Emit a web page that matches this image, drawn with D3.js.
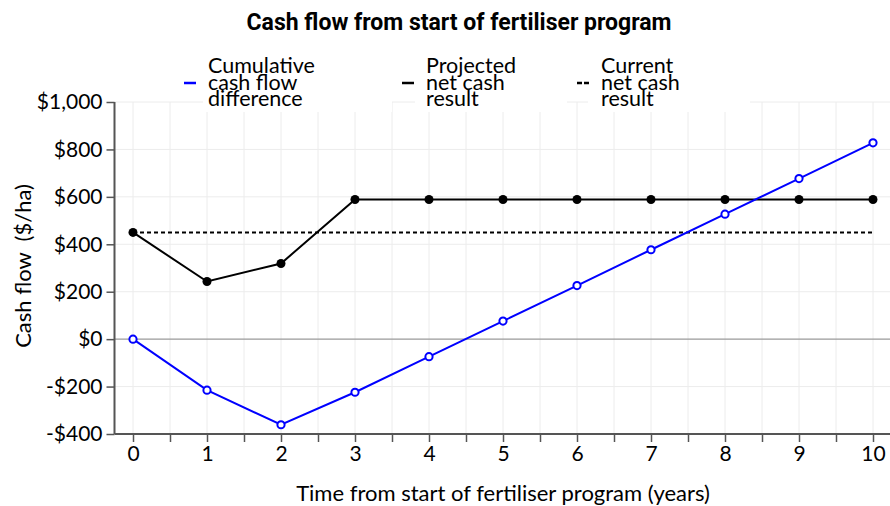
<!DOCTYPE html>
<html><head><meta charset="utf-8">
<script src="https://cdn.jsdelivr.net/npm/d3@7"></script>
<style>body{margin:0;background:#fff}svg{display:block}</style>
</head><body>
<svg id="c" width="890" height="506"></svg>
<script>
const years = [0,1,2,3,4,5,6,7,8,9,10];
const cumulative = [0,-215,-361,-224,-74,76,226,377,527,677,828];
const projected = [450,243,319,589,589,589,589,589,589,589,589];
const current = [450,450];
const currentYears = [0,10];
const yTicks = [-400,-200,0,200,400,600,800,1000];
const xTicks = [0,1,2,3,4,5,6,7,8,9,10];
const legendLabels = [["Cumulative","cash flow","difference"],["Projected","net cash","result"],["Current","net cash","result"]];

const svg = d3.select("#c");
const F = "Lato, 'Open Sans', sans-serif";
const x = d3.scaleLinear().domain([-0.25,10.25]).range([114.5,891.5]);
const y = d3.scaleLinear().domain([-400,1000]).range([434,102]);

// grid
const g = svg.append("g");
const halfTicks = d3.range(0,10.01,0.5);
g.selectAll(".vg").data(halfTicks).join("line")
  .attr("x1",d=>x(d)).attr("x2",d=>x(d)).attr("y1",y(1000)).attr("y2",y(-400))
  .attr("stroke","#ececec").attr("stroke-width",1);
g.selectAll(".hg").data(yTicks).join("line")
  .attr("x1",x(-0.25)).attr("x2",890).attr("y1",d=>y(d)).attr("y2",d=>y(d))
  .attr("stroke",d=>d===0?"#9a9a9a":"#ececec").attr("stroke-width",d=>d===0?1.2:1);

// legend backgrounds
const boxes = [[203,392],[415,567],[588,750]];
svg.selectAll(".lb").data(boxes).join("rect")
  .attr("x",d=>d[0]).attr("width",d=>d[1]-d[0]).attr("y",54).attr("height",58).attr("fill","#fff");

// axes
const yAxis = d3.axisLeft(y).tickValues(yTicks).tickSize(8).tickPadding(4)
  .tickFormat(d=> (d<0?"-$":"$") + d3.format(",")(Math.abs(d)));
const ya = svg.append("g").attr("transform",`translate(${x(-0.25)},0)`).call(yAxis);
ya.select(".domain").attr("stroke","#555").attr("stroke-width",2).attr("d",`M0,${y(1000)}V${y(-400)}`);
ya.selectAll(".tick line").attr("stroke","#555").attr("stroke-width",1.5);
ya.selectAll("text").attr("font-family",F).attr("font-size",21).attr("fill","#000");

const xAxis = d3.axisBottom(x).tickValues(halfTicks).tickSize(8).tickPadding(4)
  .tickFormat(d=> Number.isInteger(d)? d : "");
const xa = svg.append("g").attr("transform",`translate(0,${y(-400)})`).call(xAxis);
xa.select(".domain").attr("stroke","#555").attr("stroke-width",2).attr("d",`M${x(-0.25)},0H890`);
xa.selectAll(".tick line").attr("stroke","#555").attr("stroke-width",1.5);
xa.selectAll("text").attr("font-family",F).attr("font-size",21).attr("fill","#000");

// lines
const line = d3.line().x(d=>x(d[0])).y(d=>y(d[1]));
svg.append("path").datum(currentYears.map((d,i)=>[d,current[i]])).attr("d",line)
  .attr("fill","none").attr("stroke","#000").attr("stroke-width",2).attr("stroke-dasharray","4,3");
svg.append("path").datum(years.map((d,i)=>[d,projected[i]])).attr("d",line)
  .attr("fill","none").attr("stroke","#000").attr("stroke-width",2);
svg.selectAll(".pp").data(years.map((d,i)=>[d,projected[i]])).join("circle")
  .attr("cx",d=>x(d[0])).attr("cy",d=>y(d[1])).attr("r",4.5).attr("fill","#000");
svg.append("path").datum(years.map((d,i)=>[d,cumulative[i]])).attr("d",line)
  .attr("fill","none").attr("stroke","#0000ff").attr("stroke-width",2);
svg.selectAll(".cp").data(years.map((d,i)=>[d,cumulative[i]])).join("circle")
  .attr("cx",d=>x(d[0])).attr("cy",d=>y(d[1])).attr("r",3.6).attr("fill","#fff")
  .attr("stroke","#0000ff").attr("stroke-width",2);

// legend
const lx = [208,426,601];
const styles = [{c:"#0000ff",dash:null},{c:"#000",dash:null},{c:"#000",dash:"5,2"}];
legendLabels.forEach((lines,i)=>{
  svg.append("line").attr("x1",lx[i]-24).attr("x2",lx[i]-12).attr("y1",83).attr("y2",83)
    .attr("stroke",styles[i].c).attr("stroke-width",2.5).attr("stroke-dasharray",styles[i].dash);
  const t = svg.append("text").attr("font-family",F).attr("font-size",21.5).attr("fill","#000");
  lines.forEach((s,j)=> t.append("tspan").attr("x",lx[i]).attr("y",73+16.5*j).text(s));
});

// titles
svg.append("text").attr("x",459).attr("y",30).attr("text-anchor","middle")
  .attr("font-family","Roboto, 'Liberation Sans', sans-serif").attr("font-weight","bold").attr("font-size",23)
  .text("Cash flow from start of fertiliser program");
svg.append("text").attr("x",503).attr("y",501).attr("text-anchor","middle")
  .attr("font-family",F).attr("font-size",22).text("Time from start of fertiliser program (years)");
svg.append("text").attr("transform","translate(31,266) rotate(-90)").attr("text-anchor","middle")
  .attr("font-family",F).attr("font-size",22).style("white-space","pre").text("Cash flow  ($/ha)");
</script>
</body></html>
